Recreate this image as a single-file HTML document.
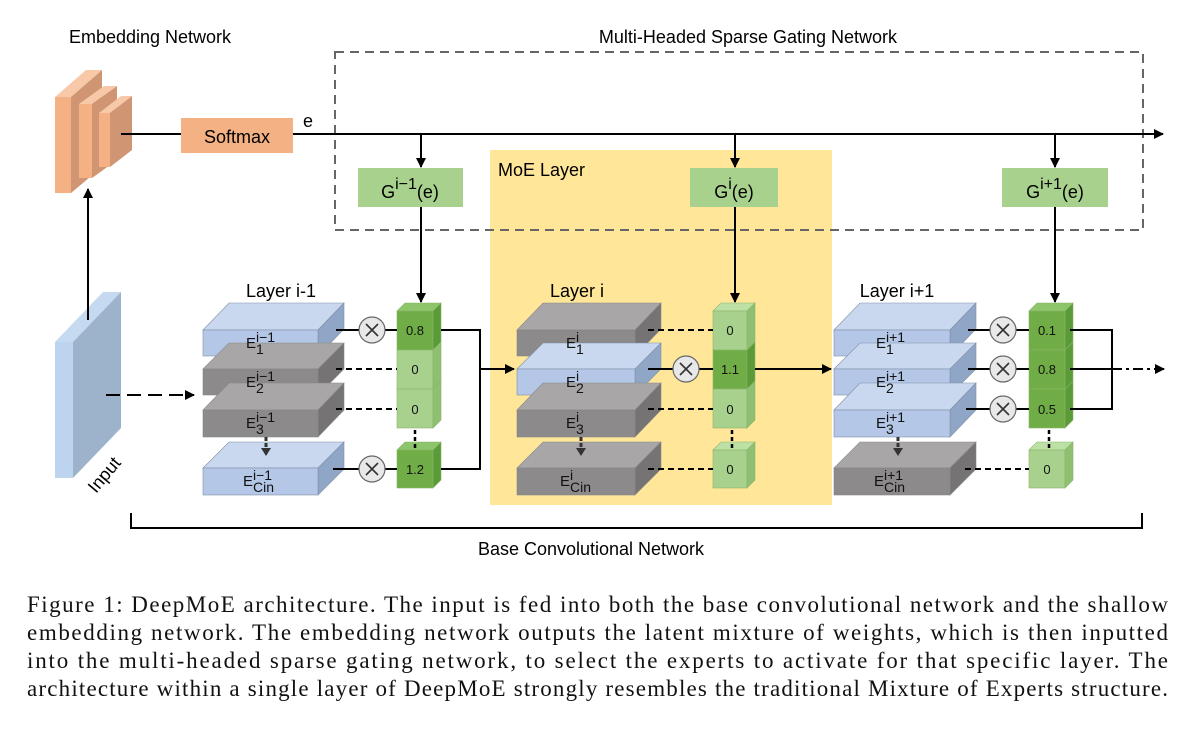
<!DOCTYPE html>
<html><head><meta charset="utf-8"><style>
html,body{margin:0;padding:0;background:#fff;}
svg{display:block;}
text{font-family:"Liberation Sans",sans-serif;}
.cap{font-family:"Liberation Serif",serif;font-size:23px;fill:#111;}
</style></head><body>
<svg width="1200" height="732" viewBox="0 0 1200 732" xmlns="http://www.w3.org/2000/svg">
<defs>
<marker id="ah" markerWidth="10" markerHeight="10" refX="9" refY="5" orient="auto" markerUnits="userSpaceOnUse"><path d="M0,0 L10,5 L0,10 z" fill="#000"/></marker>
</defs>
<rect x="490" y="150" width="342" height="355" fill="#ffe699"/>
<text x="498" y="176" font-size="18">MoE Layer</text>
<rect x="335" y="52" width="808" height="178" fill="none" stroke="#666" stroke-width="2" stroke-dasharray="9,6"/>
<text x="748" y="43" font-size="18" text-anchor="middle">Multi-Headed Sparse Gating Network</text>
<text x="150" y="43" font-size="18" text-anchor="middle">Embedding Network</text>
<g>
<polygon points="55,97 71,97 102,70 86,70" fill="#f8c9a8"/><polygon points="71,97 102,70 102,167 71,193" fill="#d09674"/><rect x="55" y="97" width="16" height="96" fill="#f4b183"/>
<polygon points="79,104 92,104 117,86 104,86" fill="#f8c9a8"/><polygon points="92,104 117,86 117,160 92,178" fill="#d09674"/><rect x="79" y="104" width="13" height="74" fill="#f4b183"/>
<polygon points="99,113 110,113 132,96 121,96" fill="#f8c9a8"/><polygon points="110,113 132,96 132,150 110,167" fill="#d09674"/><rect x="99" y="113" width="11" height="54" fill="#f4b183"/>
</g>
<rect x="181" y="118" width="112" height="35" fill="#f4b183"/>
<text x="237" y="143" font-size="18" text-anchor="middle">Softmax</text>
<text x="303" y="127" font-size="18">e</text>
<line x1="121" y1="134" x2="181" y2="134" stroke="#000" stroke-width="2"/>
<line x1="293" y1="134" x2="1163" y2="134" stroke="#000" stroke-width="2" marker-end="url(#ah)"/>
<g font-size="18" text-anchor="middle">
<rect x="358" y="168" width="105" height="39" fill="#a9d18e"/><text x="410" y="198">G<tspan dy="-9" font-size="16">i−1</tspan><tspan dy="9">(e)</tspan></text>
<rect x="690" y="168" width="88" height="39" fill="#a9d18e"/><text x="734" y="198">G<tspan dy="-9" font-size="16">i</tspan><tspan dy="9">(e)</tspan></text>
<rect x="1002" y="168" width="106" height="39" fill="#a9d18e"/><text x="1055" y="198">G<tspan dy="-9" font-size="16">i+1</tspan><tspan dy="9">(e)</tspan></text>
</g>
<g stroke="#000" stroke-width="2" fill="none">
<line x1="421" y1="134" x2="421" y2="167" marker-end="url(#ah)"/>
<line x1="735" y1="134" x2="735" y2="167" marker-end="url(#ah)"/>
<line x1="1055" y1="134" x2="1055" y2="167" marker-end="url(#ah)"/>
<line x1="421" y1="207" x2="421" y2="302" marker-end="url(#ah)"/>
<line x1="735" y1="207" x2="735" y2="302" marker-end="url(#ah)"/>
<line x1="1055" y1="207" x2="1055" y2="302" marker-end="url(#ah)"/>
<line x1="88" y1="312" x2="88" y2="189" marker-end="url(#ah)"/>
</g>
<polygon points="55,342 73,342 121,292 103,292" fill="#c5daf0"/>
<polygon points="73,342 121,292 121,428 73,478" fill="#9db3cb"/>
<rect x="55" y="342" width="18" height="136" fill="#bcd4ee"/>
<line x1="88" y1="292" x2="88" y2="320" stroke="#000" stroke-width="2"/>
<text x="0" y="0" font-size="18" transform="translate(96,494) rotate(-50)">Input</text>
<line x1="106" y1="395" x2="194" y2="395" stroke="#000" stroke-width="2" stroke-dasharray="14,7" marker-end="url(#ah)"/>

<g font-size="18" text-anchor="middle">
<text x="281" y="297">Layer i-1</text>
<text x="577" y="297">Layer i</text>
<text x="897" y="297">Layer i+1</text>
</g>

<g stroke="#7f8fa6" stroke-width="0.6">
<polygon points="203,330 318,330 344,303 229,303" fill="#c9d8ee"/><polygon points="318,330 344,303 344,329 318,356" fill="#8fa6c6"/><rect x="203" y="330" width="115" height="26" fill="#b4c7e7"/>
<polygon points="203,369 318,369 344,343 229,343" fill="#a8a6a6" stroke="#888"/><polygon points="318,369 344,343 344,369 318,395" fill="#757373" stroke="#888"/><rect x="203" y="369" width="115" height="26" fill="#8c8a8a" stroke="#888"/>
<polygon points="203,410 318,410 344,383 229,383" fill="#a8a6a6" stroke="#888"/><polygon points="318,410 344,383 344,410 318,437" fill="#757373" stroke="#888"/><rect x="203" y="410" width="115" height="27" fill="#8c8a8a" stroke="#888"/>
<polygon points="203,468 318,468 344,442 229,442" fill="#c9d8ee"/><polygon points="318,468 344,442 344,469 318,495" fill="#8fa6c6"/><rect x="203" y="468" width="115" height="27" fill="#b4c7e7"/>
<polygon points="517,330 635,330 661,303 543,303" fill="#a8a6a6" stroke="#888"/><polygon points="635,330 661,303 661,329 635,356" fill="#757373" stroke="#888"/><rect x="517" y="330" width="118" height="26" fill="#8c8a8a" stroke="#888"/>
<polygon points="517,369 635,369 661,343 543,343" fill="#c9d8ee"/><polygon points="635,369 661,343 661,369 635,395" fill="#8fa6c6"/><rect x="517" y="369" width="118" height="26" fill="#b4c7e7"/>
<polygon points="517,410 635,410 661,383 543,383" fill="#a8a6a6" stroke="#888"/><polygon points="635,410 661,383 661,410 635,437" fill="#757373" stroke="#888"/><rect x="517" y="410" width="118" height="27" fill="#8c8a8a" stroke="#888"/>
<polygon points="517,468 635,468 661,442 543,442" fill="#a8a6a6" stroke="#888"/><polygon points="635,468 661,442 661,469 635,495" fill="#757373" stroke="#888"/><rect x="517" y="468" width="118" height="27" fill="#8c8a8a" stroke="#888"/>
<polygon points="834,330 950,330 976,303 860,303" fill="#c9d8ee"/><polygon points="950,330 976,303 976,329 950,356" fill="#8fa6c6"/><rect x="834" y="330" width="116" height="26" fill="#b4c7e7"/>
<polygon points="834,369 950,369 976,343 860,343" fill="#c9d8ee"/><polygon points="950,369 976,343 976,369 950,395" fill="#8fa6c6"/><rect x="834" y="369" width="116" height="26" fill="#b4c7e7"/>
<polygon points="834,410 950,410 976,383 860,383" fill="#c9d8ee"/><polygon points="950,410 976,383 976,410 950,437" fill="#8fa6c6"/><rect x="834" y="410" width="116" height="27" fill="#b4c7e7"/>
<polygon points="834,468 950,468 976,442 860,442" fill="#a8a6a6" stroke="#888"/><polygon points="950,468 976,442 976,469 950,495" fill="#757373" stroke="#888"/><rect x="834" y="468" width="116" height="27" fill="#8c8a8a" stroke="#888"/>
</g>
<g font-size="15" fill="#111">
<text x="246" y="348">E<tspan dy="-6" font-size="14">i−1</tspan><tspan x="256" dy="12" font-size="14">1</tspan></text>
<text x="246" y="387">E<tspan dy="-6" font-size="14">i−1</tspan><tspan x="256" dy="12" font-size="14">2</tspan></text>
<text x="246" y="428">E<tspan dy="-6" font-size="14">i−1</tspan><tspan x="256" dy="12" font-size="14">3</tspan></text>
<text x="243" y="486">E<tspan dy="-6" font-size="14">i−1</tspan><tspan x="253" dy="12" font-size="14">Cin</tspan></text>
<text x="566" y="348">E<tspan dy="-6" font-size="14">i</tspan><tspan x="576" dy="12" font-size="14">1</tspan></text>
<text x="566" y="387">E<tspan dy="-6" font-size="14">i</tspan><tspan x="576" dy="12" font-size="14">2</tspan></text>
<text x="566" y="428">E<tspan dy="-6" font-size="14">i</tspan><tspan x="576" dy="12" font-size="14">3</tspan></text>
<text x="560" y="486">E<tspan dy="-6" font-size="14">i</tspan><tspan x="570" dy="12" font-size="14">Cin</tspan></text>
<text x="876" y="348">E<tspan dy="-6" font-size="14">i+1</tspan><tspan x="886" dy="12" font-size="14">1</tspan></text>
<text x="876" y="387">E<tspan dy="-6" font-size="14">i+1</tspan><tspan x="886" dy="12" font-size="14">2</tspan></text>
<text x="876" y="428">E<tspan dy="-6" font-size="14">i+1</tspan><tspan x="886" dy="12" font-size="14">3</tspan></text>
<text x="874" y="486">E<tspan dy="-6" font-size="14">i+1</tspan><tspan x="884" dy="12" font-size="14">Cin</tspan></text>
</g>
<g stroke="#333" stroke-width="3" stroke-dasharray="4,2">
<line x1="266" y1="437" x2="266" y2="449"/><line x1="581" y1="437" x2="581" y2="449"/><line x1="898" y1="437" x2="898" y2="449"/>
</g>
<g fill="#333"><path d="M261,448 L271,448 L266,456z"/><path d="M576,448 L586,448 L581,456z"/><path d="M893,448 L903,448 L898,456z"/></g>

<g stroke="#8ab56a" stroke-width="0.6">
<polygon points="397,311 433,311 441,303 405,303" fill="#8cc56a"/>
<rect x="397" y="311" width="36" height="39" fill="#70ad47"/><polygon points="433,311 441,303 441,342 433,350" fill="#5a9a37"/>
<rect x="397" y="350" width="36" height="39" fill="#a9d18e"/><polygon points="433,350 441,342 441,381 433,389" fill="#8fbf70"/>
<rect x="397" y="389" width="36" height="39" fill="#a9d18e"/><polygon points="433,389 441,381 441,420 433,428" fill="#8fbf70"/>
<polygon points="397,450 433,450 441,442 405,442" fill="#8cc56a"/>
<rect x="397" y="450" width="36" height="38" fill="#70ad47"/><polygon points="433,450 441,442 441,480 433,488" fill="#5a9a37"/>
<polygon points="713,311 747,311 755,303 721,303" fill="#bde0a4"/>
<rect x="713" y="311" width="34" height="39" fill="#a9d18e"/><polygon points="747,311 755,303 755,342 747,350" fill="#8fbf70"/>
<rect x="713" y="350" width="34" height="39" fill="#70ad47"/><polygon points="747,350 755,342 755,381 747,389" fill="#5a9a37"/>
<rect x="713" y="389" width="34" height="39" fill="#a9d18e"/><polygon points="747,389 755,381 755,420 747,428" fill="#8fbf70"/>
<polygon points="713,450 747,450 755,442 721,442" fill="#bde0a4"/>
<rect x="713" y="450" width="34" height="38" fill="#a9d18e"/><polygon points="747,450 755,442 755,480 747,488" fill="#8fbf70"/>
<polygon points="1029,311 1065,311 1073,303 1037,303" fill="#8cc56a"/>
<rect x="1029" y="311" width="36" height="39" fill="#70ad47"/><polygon points="1065,311 1073,303 1073,342 1065,350" fill="#5a9a37"/>
<rect x="1029" y="350" width="36" height="39" fill="#70ad47"/><polygon points="1065,350 1073,342 1073,381 1065,389" fill="#5a9a37"/>
<rect x="1029" y="389" width="36" height="39" fill="#70ad47"/><polygon points="1065,389 1073,381 1073,420 1065,428" fill="#5a9a37"/>
<polygon points="1029,450 1065,450 1073,442 1037,442" fill="#bde0a4"/>
<rect x="1029" y="450" width="36" height="38" fill="#a9d18e"/><polygon points="1065,450 1073,442 1073,480 1065,488" fill="#8fbf70"/>
</g>
<g font-size="13" text-anchor="middle" fill="#111">
<text x="415" y="335">0.8</text><text x="415" y="374">0</text><text x="415" y="414">0</text><text x="415" y="474">1.2</text>
<text x="730" y="335">0</text><text x="730" y="374">1.1</text><text x="730" y="414">0</text><text x="730" y="474">0</text>
<text x="1047" y="335">0.1</text><text x="1047" y="374">0.8</text><text x="1047" y="414">0.5</text><text x="1047" y="474">0</text>
</g>
<g stroke="#000" stroke-width="2.5" stroke-dasharray="4,3">
<line x1="415" y1="430" x2="415" y2="448"/><line x1="732" y1="430" x2="732" y2="448"/><line x1="1049" y1="430" x2="1049" y2="448"/>
</g>

<g stroke="#000" stroke-width="2" fill="none">
<line x1="336" y1="330" x2="359" y2="330"/><line x1="385" y1="330" x2="397" y2="330"/>
<line x1="336" y1="369" x2="397" y2="369" stroke-dasharray="6,4"/>
<line x1="336" y1="409" x2="397" y2="409" stroke-dasharray="6,4"/>
<line x1="333" y1="469" x2="359" y2="469"/><line x1="385" y1="469" x2="397" y2="469"/>
<polyline points="441,330 480,330 480,469 441,469"/>
<line x1="480" y1="369" x2="514" y2="369" marker-end="url(#ah)"/>
<line x1="648" y1="330" x2="713" y2="330" stroke-dasharray="6,4"/>
<line x1="648" y1="369" x2="673" y2="369"/><line x1="699" y1="369" x2="713" y2="369"/>
<line x1="648" y1="409" x2="713" y2="409" stroke-dasharray="6,4"/>
<line x1="648" y1="469" x2="713" y2="469" stroke-dasharray="6,4"/>
<line x1="755" y1="369" x2="831" y2="369" marker-end="url(#ah)"/>
<line x1="968" y1="330" x2="990" y2="330"/><line x1="1016" y1="330" x2="1029" y2="330"/>
<line x1="968" y1="369" x2="990" y2="369"/><line x1="1016" y1="369" x2="1029" y2="369"/>
<line x1="966" y1="409" x2="990" y2="409"/><line x1="1016" y1="409" x2="1029" y2="409"/>
<line x1="965" y1="469" x2="1029" y2="469" stroke-dasharray="6,4"/>
<polyline points="1070,330 1112,330 1112,409 1070,409"/>
<line x1="1070" y1="369" x2="1112" y2="369"/>
<line x1="1112" y1="369" x2="1164" y2="369" stroke-dasharray="10,4,3,4" marker-end="url(#ah)"/>
</g>
<g fill="#e8e8e8" stroke="#666" stroke-width="1.2">
<circle cx="372" cy="330" r="13"/><circle cx="372" cy="469" r="13"/>
<circle cx="686" cy="369" r="13"/>
<circle cx="1003" cy="330" r="13"/><circle cx="1003" cy="369" r="13"/><circle cx="1003" cy="409" r="13"/>
</g>
<g stroke="#333" stroke-width="1.6">
<path d="M366,324 l12,12 M378,324 l-12,12"/><path d="M366,463 l12,12 M378,463 l-12,12"/>
<path d="M680,363 l12,12 M692,363 l-12,12"/>
<path d="M997,324 l12,12 M1009,324 l-12,12"/><path d="M997,363 l12,12 M1009,363 l-12,12"/><path d="M997,403 l12,12 M1009,403 l-12,12"/>
</g>

<polyline points="131,513 131,528 1142,528 1142,513" fill="none" stroke="#000" stroke-width="2"/>
<text x="591" y="555" font-size="18" text-anchor="middle">Base Convolutional Network</text>

<text class="cap" x="27" y="612" textLength="1141" lengthAdjust="spacing">Figure 1: DeepMoE architecture. The input is fed into both the base convolutional network and the shallow</text>
<text class="cap" x="27" y="640" textLength="1141" lengthAdjust="spacing">embedding network. The embedding network outputs the latent mixture of weights, which is then inputted</text>
<text class="cap" x="27" y="668" textLength="1141" lengthAdjust="spacing">into the multi-headed sparse gating network, to select the experts to activate for that specific layer. The</text>
<text class="cap" x="27" y="696" textLength="1141" lengthAdjust="spacing">architecture within a single layer of DeepMoE strongly resembles the traditional Mixture of Experts structure.</text>
</svg>
</body></html>
